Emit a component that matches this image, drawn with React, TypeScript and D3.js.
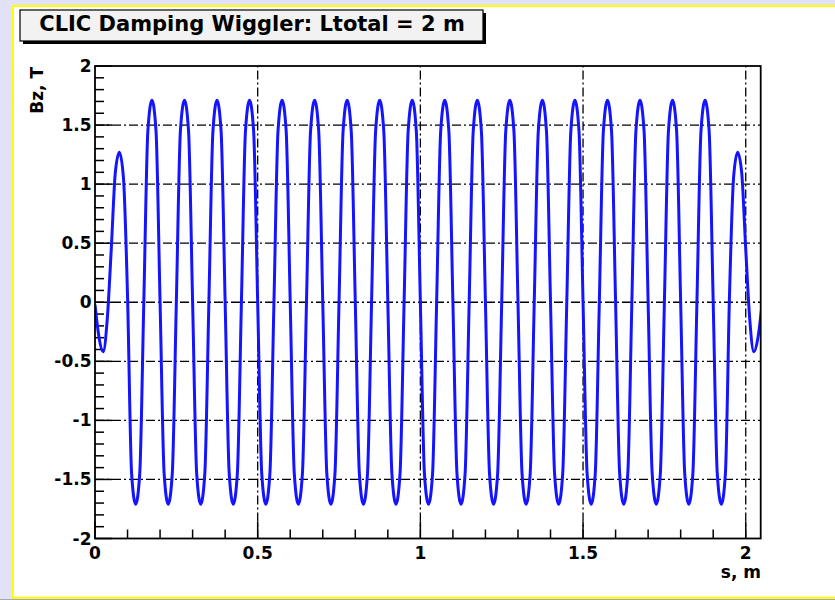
import React from 'react';
import * as d3 from 'd3';

const W = 835;
const H = 600;

const title = 'CLIC Damping Wiggler: Ltotal = 2 m';
const xTitle = 's, m';
const yTitle = 'Bz, T';

// sample spacing along s (m)
const sStep = 0.0125;

// Bz (T) every 0.0125 m, s = 0 … 2.05
const bzValues = [
  -0.02, -0.3, -0.42, -0.15, 0.45, 1.1, 1.27, 1.05,
  0.05, -1.45, -1.71, -1.45, 0, 1.45, 1.71, 1.45,
  0, -1.45, -1.71, -1.45, 0, 1.45, 1.71, 1.45,
  0, -1.45, -1.71, -1.45, 0, 1.45, 1.71, 1.45,
  0, -1.45, -1.71, -1.45, 0, 1.45, 1.71, 1.45,
  0, -1.45, -1.71, -1.45, 0, 1.45, 1.71, 1.45,
  0, -1.45, -1.71, -1.45, 0, 1.45, 1.71, 1.45,
  0, -1.45, -1.71, -1.45, 0, 1.45, 1.71, 1.45,
  0, -1.45, -1.71, -1.45, 0, 1.45, 1.71, 1.45,
  0, -1.45, -1.71, -1.45, 0, 1.45, 1.71, 1.45,
  0, -1.45, -1.71, -1.45, 0, 1.45, 1.71, 1.45,
  0, -1.45, -1.71, -1.45, 0, 1.45, 1.71, 1.45,
  0, -1.45, -1.71, -1.45, 0, 1.45, 1.71, 1.45,
  0, -1.45, -1.71, -1.45, 0, 1.45, 1.71, 1.45,
  0, -1.45, -1.71, -1.45, 0, 1.45, 1.71, 1.45,
  0, -1.45, -1.71, -1.45, 0, 1.45, 1.71, 1.45,
  0, -1.45, -1.71, -1.45, 0, 1.45, 1.71, 1.45,
  0, -1.45, -1.71, -1.45, 0, 1.45, 1.71, 1.45,
  0, -1.45, -1.71, -1.45, 0, 1.45, 1.71, 1.45,
  0, -1.45, -1.71, -1.45, 0.05, 1.05, 1.27, 1.1,
  0.45, -0.15, -0.42, -0.3, -0.02,
];

const xMajorTicks = [0, 0.5, 1, 1.5, 2];
const xTickLabels = ['0', '0.5', '1', '1.5', '2'];
const yMajorTicks = [-2, -1.5, -1, -0.5, 0, 0.5, 1, 1.5, 2];
const yTickLabels = ['-2', '-1.5', '-1', '-0.5', '0', '0.5', '1', '1.5', '2'];

const FONT = '"DejaVu Sans", Verdana, sans-serif';

export default function App() {
  const left = 95;
  const right = 760.7;
  const top = 66;
  const bottom = 538.5;

  const x = d3.scaleLinear().domain([0, 2.046]).range([left, right]);
  const y = d3.scaleLinear().domain([-2, 2]).range([bottom, top]);

  const line = d3
    .line<number>()
    .x((_, i) => x(i * sStep))
    .y((d) => y(d))
    .curve(d3.curveMonotoneX);

  const xMinor = d3.range(0, 21).map((i) => i / 10).filter((v) => x(v) <= right);
  const yMinor = d3.range(-20, 21).map((i) => i / 10);
  const isMajor = (v: number) => Math.abs(v * 2 - Math.round(v * 2)) < 1e-6;

  const gridDash = '9,3,2,3';

  return (
    <svg
      width={W}
      height={H}
      style={{ position: 'absolute', left: 0, top: 0, display: 'block' }}
      xmlns="http://www.w3.org/2000/svg"
    >
      <defs>
        <clipPath id="plotClip">
          <rect x={left} y={top - 5} width={right - left} height={bottom - top + 10} />
        </clipPath>
      </defs>
      {/* page background */}
      <rect x={0} y={0} width={W} height={H} fill="#e1e1f8" />
      {/* canvas with yellow border */}
      <rect x={13} y={6} width={900} height={591.7} fill="#ffffff" stroke="#ffff00" strokeWidth={2} />
      <rect x={0} y={599} width={W} height={1} fill="#a8a8a8" />

      {/* title box */}
      <rect x={23} y={13} width={463} height={31} fill="#000" />
      <rect x={20} y={10} width={463} height={31} fill="#f2f2f2" stroke="#000" strokeWidth={1.2} />
      <text
        x={252}
        y={31}
        textAnchor="middle"
        fontFamily={FONT}
        fontWeight="bold"
        fontSize={21}
        fill="#000"
      >
        {title}
      </text>

      {/* grid */}
      <g stroke="#000" strokeWidth={1.3} strokeDasharray={gridDash} fill="none">
        {xMajorTicks
          .filter((v) => v > 0)
          .map((v) => (
            <line key={'gx' + v} x1={x(v)} x2={x(v)} y1={bottom} y2={top} />
          ))}
        {yMajorTicks
          .filter((v) => v > -2 && v < 2)
          .map((v) => (
            <line key={'gy' + v} x1={left} x2={right} y1={y(v)} y2={y(v)} />
          ))}
      </g>

      {/* ticks */}
      <g stroke="#000" strokeWidth={1.5}>
        {xMinor.map((v) => (
          <line
            key={'tx' + v}
            x1={x(v)}
            x2={x(v)}
            y1={bottom}
            y2={bottom - (isMajor(v) ? 17 : 9)}
          />
        ))}
        {yMinor.map((v) => (
          <line
            key={'ty' + v}
            x1={left}
            x2={left + (isMajor(v) ? 17 : 9)}
            y1={y(v)}
            y2={y(v)}
          />
        ))}
      </g>

      {/* data curve */}
      <path
        d={line(bzValues) || ''}
        fill="none"
        stroke="#1414ff"
        strokeWidth={3}
        strokeLinejoin="round"
        clipPath="url(#plotClip)"
      />

      {/* frame */}
      <rect
        x={left}
        y={top}
        width={right - left}
        height={bottom - top}
        fill="none"
        stroke="#000"
        strokeWidth={1.8}
      />

      {/* tick labels */}
      <g fontFamily={FONT} fontWeight="bold" fontSize={17} fill="#000">
        {xMajorTicks.map((v, i) => (
          <text key={'lx' + v} x={x(v)} y={559} textAnchor="middle">
            {xTickLabels[i]}
          </text>
        ))}
        {yMajorTicks.map((v, i) => (
          <text
            key={'ly' + v}
            x={91.5}
            y={y(v)}
            textAnchor="end"
            dominantBaseline="central"
          >
            {yTickLabels[i]}
          </text>
        ))}
        <text x={761} y={578} textAnchor="end">
          {xTitle}
        </text>
        <text transform="translate(43,67) rotate(-90)" textAnchor="end">
          {yTitle}
        </text>
      </g>
    </svg>
  );
}
